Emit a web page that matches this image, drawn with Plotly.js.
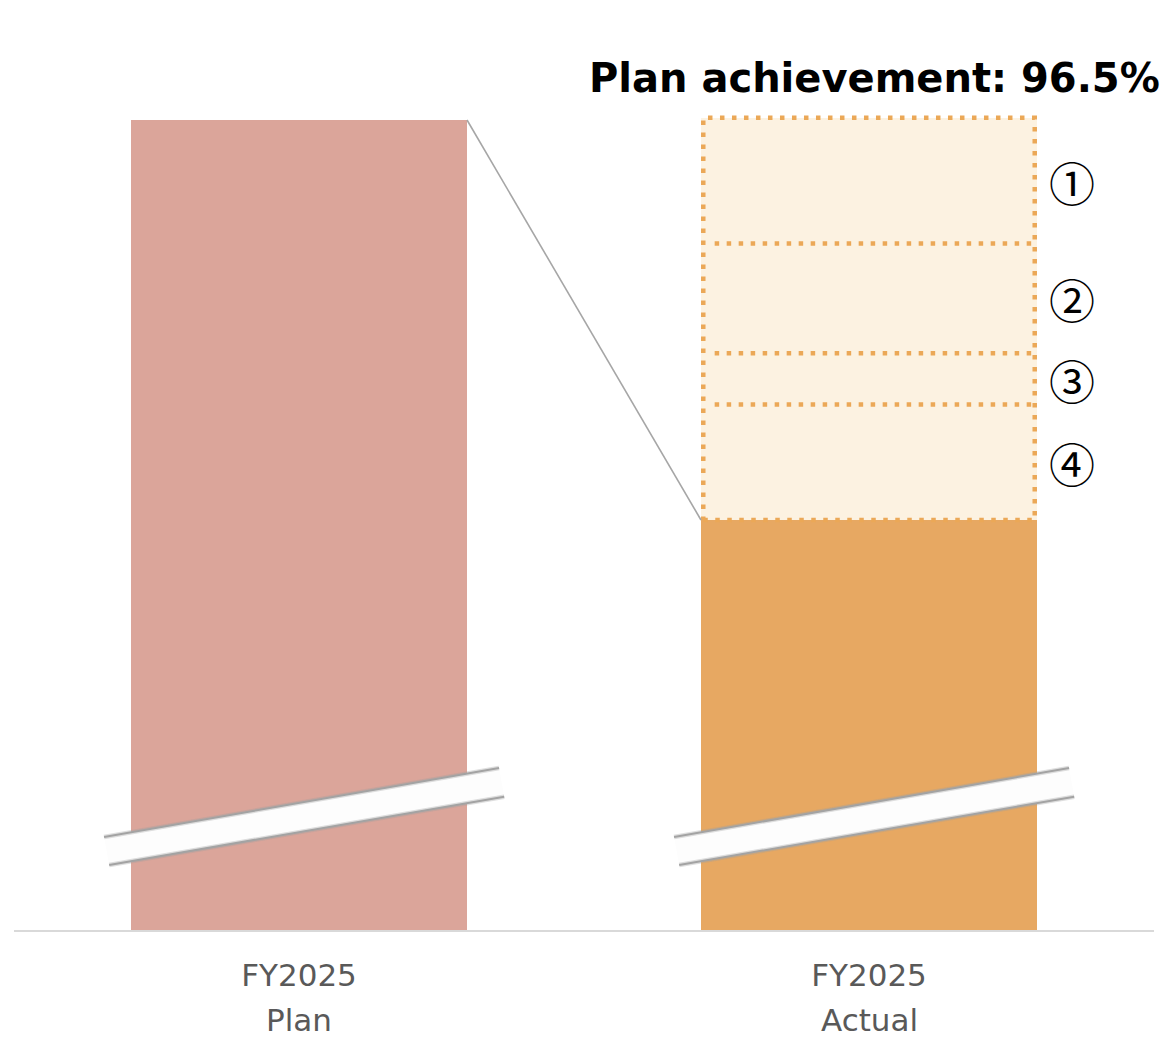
<!DOCTYPE html>
<html>
<head>
<meta charset="utf-8">
<script src="https://cdn.plot.ly/plotly-3.0.1.min.js"></script>
<style>
  html, body { margin: 0; padding: 0; background: #ffffff; }
  #chart { width: 1163px; height: 1038px; }
</style>
</head>
<body>
<div id="chart"></div>
<script>
// Plan vs. actual for FY2025 (index, plan = 100)
const periods = ["FY2025", "FY2025"];
const kinds = ["Plan", "Actual"];
const totals = [100, 96.5];
const barColors = ["#DBA59A", "#E7A862"];

// Gap items stacked on top of the actual bar, bottom to top
const gapLabels = ["④", "③", "②", "①"];
const gapValues = [1.01, 0.45, 0.96, 1.10];

const achievementText = "Plan achievement: 96.5%";

// Layout constants
const X = [0, 1];
const BAR_W = 0.5895;
const Y_MIN = 92.9125;
const Y_MAX = 100.525;
const FONT = "DejaVu Sans";

const traces = [];

// Main bars
traces.push({
  type: "bar",
  x: X,
  y: totals,
  width: BAR_W,
  marker: { color: barColors, line: { width: 0 } },
  hoverinfo: "skip",
  showlegend: false
});

// Gap segments (fill) stacked above the actual bar
const gapFill = "#FCF2E1";
const gapLine = "#EBA857";
let base = totals[1];
const segBounds = [];
gapValues.forEach((v, i) => {
  traces.push({
    type: "bar",
    x: [X[1]],
    y: [v],
    width: BAR_W,
    marker: { color: gapFill, line: { width: 0 } },
    hoverinfo: "skip",
    showlegend: false
  });
  segBounds.push([base, base + v]);
  base += v;
});

// Dotted outline: outer box plus one divider between neighbouring segments
const xl = X[1] - BAR_W / 2 + 0.004;
const xr = X[1] + BAR_W / 2 - 0.004;
const dotted = { color: gapLine, width: 4.5, dash: "4.5px,7.5px" };
const boxBottom = segBounds[0][0];
const boxTop = segBounds[segBounds.length - 1][1];
traces.push({
  type: "scatter",
  mode: "lines",
  x: [xl, xr, xr, xl, xl],
  y: [boxBottom, boxBottom, boxTop, boxTop, boxBottom],
  line: dotted,
  hoverinfo: "skip",
  showlegend: false,
  cliponaxis: false
});
segBounds.slice(0, -1).forEach(([b, t]) => {
  traces.push({
    type: "scatter",
    mode: "lines",
    x: [xl + 0.02, xr],
    y: [t, t],
    line: dotted,
    hoverinfo: "skip",
    showlegend: false
  });
});

// Connector from the top of the plan bar to the top of the actual bar
traces.push({
  type: "scatter",
  mode: "lines",
  x: [X[0] + BAR_W / 2, X[1] - BAR_W / 2],
  y: [totals[0], totals[1]],
  line: { color: "#A6A6A6", width: 1.6 },
  hoverinfo: "skip",
  showlegend: false
});

// Axis-break marks across each bar
const shapes = [];
X.forEach(cx => {
  const ux0 = cx - 0.342, ux1 = cx + 0.351;
  const lx0 = cx - 0.333, lx1 = cx + 0.360;
  const uy0 = 0.1069, uy1 = 0.1862;
  const ly0 = 0.0747, ly1 = 0.1532;
  shapes.push({
    type: "path", xref: "x", yref: "paper",
    path: `M ${ux0} ${uy0} L ${ux1} ${uy1} L ${lx1} ${ly1} L ${lx0} ${ly0} Z`,
    fillcolor: "#FDFDFD", line: { width: 0 }, layer: "above"
  });
  [[ux0, uy0, ux1, uy1], [lx0, ly0, lx1, ly1]].forEach(([a, b, c, d]) => {
    // soft shadow under each edge, then the edge itself
    shapes.push({
      type: "line", xref: "x", yref: "paper",
      x0: a, y0: b, x1: c, y1: d,
      line: { color: "rgba(160,160,160,0.35)", width: 4.5 }, layer: "above"
    });
    shapes.push({
      type: "line", xref: "x", yref: "paper",
      x0: a, y0: b, x1: c, y1: d,
      line: { color: "#A3A3A3", width: 2 }, layer: "above"
    });
  });
});

const annotations = [];

// Headline
annotations.push({
  xref: "paper", yref: "paper",
  x: 0.5026, y: 0.979, xanchor: "left", yanchor: "middle",
  text: "<b>" + achievementText + "</b>",
  showarrow: false,
  font: { family: FONT, size: 40, color: "#000000" }
});

// Circled item numbers next to each gap segment
segBounds.forEach(([b, t], i) => {
  annotations.push({
    xref: "x", yref: "y",
    x: X[1] + BAR_W / 2 + 0.062, y: (b + t) / 2,
    xanchor: "center", yanchor: "middle",
    text: gapLabels[i],
    showarrow: false,
    font: { family: "Noto Sans CJK JP", size: 46, color: "#000000" }
  });
});

// Second line of the category labels
kinds.forEach((k, i) => {
  annotations.push({
    xref: "x", yref: "paper",
    x: X[i], y: -0.104,
    xanchor: "center", yanchor: "middle",
    borderpad: 0,
    text: k,
    showarrow: false,
    font: { family: FONT, size: 31, color: "#595959" }
  });
});

const layout = {
  width: 1163,
  height: 1038,
  margin: { l: 14, r: 9, t: 60, b: 108 },
  paper_bgcolor: "#ffffff",
  plot_bgcolor: "#ffffff",
  barmode: "stack",
  bargap: 0,
  showlegend: false,
  xaxis: {
    range: [-0.5, 1.5],
    tickvals: X,
    ticktext: periods,
    showgrid: false,
    zeroline: false,
    showline: true,
    linecolor: "#D9D9D9",
    linewidth: 1.5,
    ticks: "",
    ticklabelstandoff: 17,
    tickfont: { family: FONT, size: 31, color: "#595959" },
    fixedrange: true
  },
  yaxis: {
    range: [Y_MIN, Y_MAX],
    visible: false,
    showgrid: false,
    zeroline: false,
    fixedrange: true
  },
  shapes: shapes,
  annotations: annotations
};

Plotly.newPlot("chart", traces, layout, { displayModeBar: false, staticPlot: true });
</script>
</body>
</html>
